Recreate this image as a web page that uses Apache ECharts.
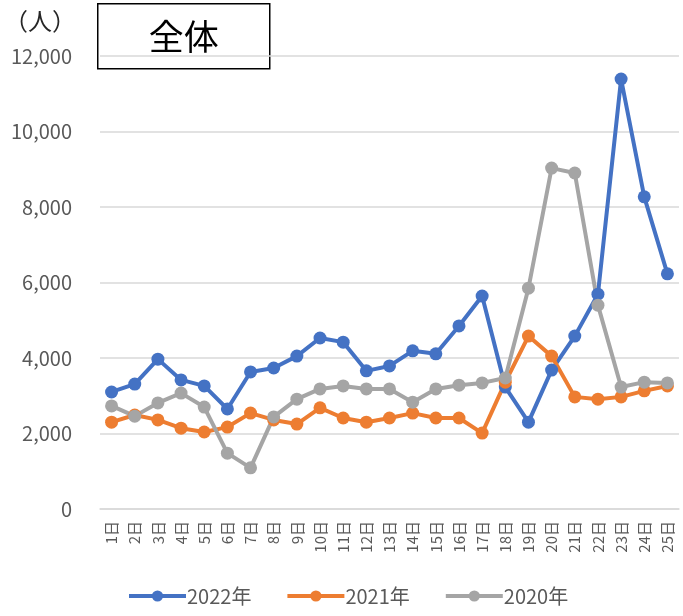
<!DOCTYPE html>
<html lang="ja">
  <head>
    <meta charset="UTF-8" />
    <title>全体</title>
    <script src="https://cdn.jsdelivr.net/npm/echarts@6.0.0/dist/echarts.min.js"></script>
  </head>
  <body style="margin: 0">
    <div id="main" style="width: 683px; height: 616px"></div>

    <script>
      // 日ごとの人数 (1日〜25日)
      var days = []
      for (var i = 1; i <= 25; i++) days.push(i + "日")

      var yTicks = [0, 2000, 4000, 6000, 8000, 10000, 12000]

      var data2022 = [3100, 3310, 3970, 3420, 3260, 2650, 3630, 3735, 4050, 4530, 4420, 3660, 3790, 4190, 4110, 4850, 5640, 3230, 2300, 3680, 4580, 5690, 11390, 8270, 6230]
      var data2021 = [2300, 2490, 2360, 2140, 2040, 2170, 2540, 2360, 2250, 2680, 2410, 2300, 2410, 2540, 2410, 2410, 2010, 3360, 4580, 4050, 2970, 2910, 2970, 3130, 3260]
      var data2020 = [2730, 2460, 2810, 3070, 2700, 1480, 1090, 2440, 2910, 3180, 3260, 3180, 3180, 2830, 3180, 3280, 3340, 3470, 5850, 9030, 8900, 5400, 3230, 3360, 3340]

      var font = '"Noto Sans CJK JP", "Noto Sans", sans-serif'
      var chart = echarts.init(document.getElementById("main"))

      function line(name, data, color) {
        return {
          name: name,
          type: "line",
          data: data,
          symbol: "circle",
          symbolSize: 13,
          lineStyle: { width: 4, color: color },
          itemStyle: { color: color },
          animation: false,
        }
      }

      chart.setOption({
        textStyle: { fontFamily: font },
        grid: { left: 100, right: 4, top: 56, bottom: 107 },
        legend: {
          bottom: 5,
          left: 122,
          itemWidth: 57,
          itemHeight: 14,
          itemGap: 34,
          lineStyle: { width: 4 },
          textStyle: { fontSize: 20, color: "#595959", fontFamily: font, padding: [0, 0, 0, -4] },
          data: ["2022年", "2021年", "2020年"],
        },
        xAxis: {
          type: "category",
          data: days,
          boundaryGap: true,
          axisLine: { show: true, lineStyle: { color: "#d9d9d9", width: 1.5 } },
          axisTick: { show: false },
          axisLabel: { rotate: 90, fontSize: 15, color: "#595959", margin: 12, interval: 0 },
        },
        yAxis: {
          type: "value",
          min: yTicks[0],
          max: yTicks[yTicks.length - 1],
          interval: 2000,
          axisLabel: {
            fontSize: 20,
            color: "#595959",
            margin: 28,
            formatter: function (v) {
              return v.toLocaleString("en-US")
            },
          },
          splitLine: { lineStyle: { color: "#d9d9d9", width: 1.5 } },
        },
        graphic: [
          {
            type: "text",
            left: 4,
            top: 9,
            style: { text: "（人）", fontSize: 24, fill: "#262626", fontFamily: font },
          },
          {
            type: "group",
            left: 97,
            top: 3,
            children: [
              {
                type: "rect",
                shape: { x: 0, y: 0, width: 172, height: 65 },
                style: { fill: "#fff", stroke: "#000", lineWidth: 1.5 },
              },
              {
                type: "text",
                x: 86,
                y: 33,
                style: {
                  text: "全体",
                  fontSize: 35,
                  fill: "#000",
                  fontFamily: font,
                  align: "center",
                  verticalAlign: "middle",
                },
              },
            ],
          },
        ],
        series: [
          line("2022年", data2022, "#4472c4"),
          line("2021年", data2021, "#ed7d31"),
          line("2020年", data2020, "#a5a5a5"),
        ],
      })
    </script>
  </body>
</html>
